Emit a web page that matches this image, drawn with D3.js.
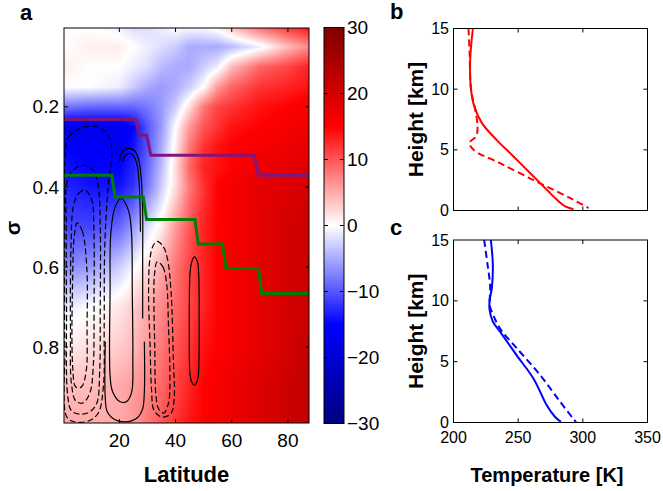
<!DOCTYPE html>
<html>
<head>
<meta charset="utf-8">
<script src="https://cdn.jsdelivr.net/npm/d3@7"></script>
<style>
  body { margin: 0; background: #fff; }
  svg { display: block; font-family: Arial, "Liberation Sans", Helvetica, sans-serif; }
</style>
</head>
<body>
<div id="container"></div>
<script>
// ---- panel a: temperature anomaly field (lat x sigma) ----
const latGrid = [0, 10, 20, 25, 30, 35, 40, 45, 50, 55, 60, 70, 80, 87.5];
const sigmaGrid = [0, 0.05, 0.1, 0.15, 0.2, 0.25, 0.3, 0.35, 0.4, 0.5, 0.6, 0.7, 0.8, 0.9, 1.0];
const dT = [
  [0, 0, -1, -2, -2, -1, 0, 0, 0, 1, 4, 9, 12, 14],
  [0, 1, 1, 0, -1, -2, -3, -5, -5, -5, -4, -1, 4, 7],
  [1, 0, 0, -1, -2, -4, -5, -5, -3, -1, 4, 9, 11, 13],
  [0, 0, -1, -3, -5, -6, -5, -3, 0, 6, 9, 12, 13, 14],
  [-8, -9, -9, -9, -8, -6, -3, 2, 8, 11, 12, 14, 15, 16],
  [-17, -17, -17, -15, -10, -6, 0, 6, 10, 12, 14, 15, 16, 17],
  [-15, -16, -16, -14, -10, -5, 1, 8, 12, 14, 15, 16, 17, 18],
  [-14, -15, -15, -13, -9, -4, 2, 9, 13, 14, 15, 17, 18, 19],
  [-13, -14, -14, -12, -8, -3, 2, 8, 12, 15, 16, 18, 19, 20],
  [-11, -11, -9, -6, -2, 1, 6, 10, 13, 15, 16, 18, 20, 21],
  [-7, -6, -3, -0.5, 2, 5, 8, 11, 13, 15, 16, 18, 20, 21],
  [-1.5, 0, 1.5, 3, 5, 7, 9, 11, 13, 15, 16, 18, 20, 21],
  [1, 2, 3, 4, 6, 8, 10, 12, 14, 15, 16, 18, 20, 22],
  [4, 4, 5, 6, 7, 9, 11, 13, 15, 16, 17, 19, 21, 22],
  [5, 5, 5, 6, 8, 10, 12, 14, 15, 16, 17, 19, 21, 22]
];

// circulation contours, [lat, sigma]
const posInnerU = [[20.6,0.429],[18.5,0.45],[17.0,0.512],[16.7,0.662],[16.7,0.871],[17.6,0.912],[20.3,0.937],[22.6,0.936],[24.4,0.912],[24.8,0.829],[24.6,0.662],[24.3,0.512],[23.2,0.458]];
const posArchOuter = [[20.0,0.337],[20.6,0.317],[22.0,0.306],[23.8,0.304],[25.6,0.311],[26.9,0.333],[27.8,0.379],[28.3,0.462],[28.3,0.579],[28.3,0.729]];
const posArchInner = [[21.2,0.336],[22.1,0.322],[23.6,0.316],[25.0,0.322],[26.2,0.341],[27.0,0.387],[27.4,0.462],[27.5,0.512]];
const posBottom = [[15.0,0.787],[15.0,0.929],[15.7,0.962],[18.5,0.982],[22.6,0.987],[26.4,0.977],[28.3,0.954],[28.9,0.912],[28.9,0.787]];
const posOval = [[46.7,0.575],[47.8,0.587],[48.2,0.612],[48.4,0.746],[48.1,0.871],[47.5,0.889],[46.7,0.896],[45.8,0.888],[45.2,0.871],[44.9,0.746],[45.2,0.612],[45.8,0.587]];
const negMidOuter = [[33.5,0.536],[35.7,0.55],[37.1,0.579],[38.4,0.662],[39.2,0.829],[39.5,0.929],[38.3,0.967],[35.1,0.975],[32.3,0.958],[31.5,0.912],[30.9,0.787],[30.4,0.662],[30.9,0.579],[32.1,0.546]];
const negMidInner = [[33.5,0.587],[35.5,0.6],[36.8,0.64],[37.5,0.75],[38.0,0.88],[37.5,0.94],[35.8,0.965],[34.0,0.955],[33.0,0.92],[32.6,0.8],[32.3,0.68],[32.5,0.62]];
const negLeft1 = [[0.8,0.31],[1.9,0.275],[6.0,0.254],[10.7,0.248],[14.3,0.258],[16.7,0.283],[17.3,0.32],[16.0,0.4],[14.8,0.55],[14.6,0.75],[14.3,0.9],[12.5,0.965],[9,0.985],[4,0.987],[1.3,0.975],[0.6,0.8],[0.5,0.55]];
const negLeft2 = [[1.3,0.39],[3.6,0.358],[7.2,0.346],[10.7,0.358],[12.5,0.4],[13.2,0.5],[13.2,0.7],[13.0,0.86],[12.0,0.94],[9.5,0.962],[6,0.968],[3,0.96],[1.6,0.92],[1.2,0.7],[1.1,0.5]];
const negLeft3 = [[3.6,0.45],[5.4,0.417],[7.8,0.408],[10.2,0.433],[10.9,0.5],[11.0,0.7],[10.7,0.85],[9.5,0.915],[7,0.94],[4.5,0.935],[3,0.895],[2.6,0.75],[2.8,0.55]];
const negLeft4 = [[5.0,0.49],[6.8,0.51],[8.4,0.6],[8.5,0.75],[8.2,0.86],[6.5,0.9],[4.5,0.9],[3.4,0.85],[3.4,0.62],[4.0,0.52]];

// tropopause-like step lines
const purpleLat = [0.3, 25.9, 27.1, 29.7, 31.2, 68.0, 69.5, 87.5];
const purpleSig = [0.2315, 0.2315, 0.271, 0.271, 0.321, 0.321, 0.371, 0.371];
const greenLat = [0.3, 17.3, 18.5, 28.5, 29.7, 46.9, 48.1, 56.7, 58.0, 69.5, 70.7, 87.5];
const greenSig = [0.371, 0.371, 0.425, 0.425, 0.4815, 0.4815, 0.543, 0.543, 0.604, 0.604, 0.6665, 0.6665];

const latTicks = [20, 40, 60, 80];
const sigmaTicks = [0.2, 0.4, 0.6, 0.8];
const cbarTicks = [30, 20, 10, 0, -10, -20, -30];

// ---- panels b, c: temperature profiles ----
const redSolidT = [215, 212.9, 213.5, 216, 222, 233.5, 246.4, 261.9, 272.2, 280, 286.4, 292.8];
const redSolidH = [15, 12.4, 10, 8.6, 7.2, 5.8, 4.45, 2.8, 1.7, 0.88, 0.33, 0.1];
const redDashT = [211.6, 212.4, 213.5, 216.8, 218.6, 217.5, 212.4, 215.5, 236, 261.9, 280, 292.8, 304.4];
const redDashH = [15, 13.2, 10, 8.3, 6.9, 6.1, 5.6, 5.0, 3.9, 2.5, 1.56, 0.88, 0.2];
const blueSolidT = [228.9, 230.4, 229.7, 227.9, 227.9, 230.4, 236.1, 249, 261.9, 272.2, 278.6, 283];
const blueSolidH = [15, 13.0, 11.1, 10.0, 9.25, 8.3, 7.45, 5.5, 3.6, 1.4, 0.45, 0.05];
const blueDashT = [223.7, 226.3, 228.4, 228, 229.7, 236.1, 249, 267, 282.5, 294.9];
const blueDashH = [15, 13, 11.1, 9.6, 9.1, 7.7, 6.1, 3.9, 1.7, 0];
const tempTicks = [200, 250, 300, 350];
const heightTicks = [0, 5, 10, 15];

const W = 663, H = 491;
const svg = d3.select("#container").append("svg")
  .attr("width", W).attr("height", H)
  .attr("viewBox", [0, 0, W, H]);

const color = d3.scaleLinear()
  .domain([-30, -15, 0, 15, 30])
  .range(["#00007f", "#0000ff", "#ffffff", "#ff0000", "#7f0000"])
  .clamp(true);

// ---------- panel a ----------
const ax = {l: 64, r: 309, t: 28, b: 423};
const xA = d3.scaleLinear().domain([0.3, 87.5]).range([ax.l, ax.r]);
const yA = d3.scaleLinear().domain([0.003, 0.99]).range([ax.t, ax.b]);

function fieldAt(lat, sig) {
  let i = Math.min(Math.max(d3.bisectRight(latGrid, lat) - 1, 0), latGrid.length - 2);
  let j = Math.min(Math.max(d3.bisectRight(sigmaGrid, sig) - 1, 0), sigmaGrid.length - 2);
  const fx = Math.max(0, Math.min(1, (lat - latGrid[i]) / (latGrid[i + 1] - latGrid[i])));
  const fy = Math.max(0, Math.min(1, (sig - sigmaGrid[j]) / (sigmaGrid[j + 1] - sigmaGrid[j])));
  const a = dT[j][i] * (1 - fx) + dT[j][i + 1] * fx;
  const b = dT[j + 1][i] * (1 - fx) + dT[j + 1][i + 1] * fx;
  return a * (1 - fy) + b * fy;
}

const cw = ax.r - ax.l, ch = ax.b - ax.t;
const canvas = document.createElement("canvas");
canvas.width = cw; canvas.height = ch;
const ctx = canvas.getContext("2d");
const img = ctx.createImageData(cw, ch);
for (let py = 0; py < ch; py++) {
  const sig = yA.invert(ax.t + py + 0.5);
  for (let px = 0; px < cw; px++) {
    const lat = xA.invert(ax.l + px + 0.5);
    const c = d3.rgb(color(fieldAt(lat, sig)));
    const k = (py * cw + px) * 4;
    img.data[k] = c.r; img.data[k + 1] = c.g; img.data[k + 2] = c.b; img.data[k + 3] = 255;
  }
}
ctx.putImageData(img, 0, 0);

svg.append("defs").append("clipPath").attr("id", "clipA")
  .append("rect").attr("x", ax.l).attr("y", ax.t).attr("width", cw).attr("height", ch);

svg.append("image")
  .attr("x", ax.l).attr("y", ax.t).attr("width", cw).attr("height", ch)
  .attr("preserveAspectRatio", "none")
  .attr("href", canvas.toDataURL());

const gA = svg.append("g").attr("clip-path", "url(#clipA)");

const closedLine = d3.line().x(d => xA(d[0])).y(d => yA(d[1])).curve(d3.curveCatmullRomClosed);
const openLine = d3.line().x(d => xA(d[0])).y(d => yA(d[1])).curve(d3.curveCatmullRom);

const contours = [
  {pts: posInnerU, closed: true, dash: false},
  {pts: posArchOuter, closed: false, dash: false},
  {pts: posArchInner, closed: false, dash: false},
  {pts: posBottom, closed: false, dash: false},
  {pts: posOval, closed: true, dash: false},
  {pts: negMidOuter, closed: true, dash: true},
  {pts: negMidInner, closed: true, dash: true},
  {pts: negLeft1, closed: true, dash: true},
  {pts: negLeft2, closed: true, dash: true},
  {pts: negLeft3, closed: true, dash: true},
  {pts: negLeft4, closed: true, dash: true}
];

gA.selectAll("path.ctr")
  .data(contours)
  .join("path")
  .attr("class", "ctr")
  .attr("fill", "none")
  .attr("stroke", "#000")
  .attr("stroke-width", 1.2)
  .attr("stroke-dasharray", d => d.dash ? "6,3" : null)
  .attr("d", d => d.closed ? closedLine(d.pts) : openLine(d.pts));

const stepLine = d3.line().x(d => xA(d[0])).y(d => yA(d[1]));
gA.append("path")
  .attr("fill", "none").attr("stroke", "#7f167f").attr("stroke-width", 3)
  .attr("d", stepLine(d3.zip(purpleLat, purpleSig)));
gA.append("path")
  .attr("fill", "none").attr("stroke", "#008000").attr("stroke-width", 3)
  .attr("d", stepLine(d3.zip(greenLat, greenSig)));

function box(g, l, t, r, b) {
  g.append("rect")
    .attr("x", l).attr("y", t).attr("width", r - l).attr("height", b - t)
    .attr("fill", "none").attr("stroke", "#000").attr("stroke-width", 1);
}

const tickLen = 4;
// panel a ticks
svg.append("g").selectAll("line").data(latTicks).join("line")
  .attr("x1", d => xA(d)).attr("x2", d => xA(d)).attr("y1", ax.b).attr("y2", ax.b - tickLen).attr("stroke", "#000");
svg.append("g").selectAll("line").data(latTicks).join("line")
  .attr("x1", d => xA(d)).attr("x2", d => xA(d)).attr("y1", ax.t).attr("y2", ax.t + tickLen).attr("stroke", "#000");
svg.append("g").selectAll("line").data(sigmaTicks).join("line")
  .attr("x1", ax.l).attr("x2", ax.l + tickLen).attr("y1", d => yA(d)).attr("y2", d => yA(d)).attr("stroke", "#000");
svg.append("g").selectAll("line").data(sigmaTicks).join("line")
  .attr("x1", ax.r).attr("x2", ax.r - tickLen).attr("y1", d => yA(d)).attr("y2", d => yA(d)).attr("stroke", "#000");
box(svg, ax.l, ax.t, ax.r, ax.b);

svg.append("g").selectAll("text").data(latTicks).join("text")
  .attr("x", d => xA(d)).attr("y", 447)
  .attr("text-anchor", "middle").attr("font-size", 19)
  .text(d => d);
svg.append("g").selectAll("text").data(sigmaTicks).join("text")
  .attr("x", 59).attr("y", d => yA(d))
  .attr("dy", "0.35em").attr("text-anchor", "end").attr("font-size", 19)
  .text(d => d.toFixed(1));

svg.append("text").attr("x", (ax.l + ax.r) / 2).attr("y", 482)
  .attr("text-anchor", "middle").attr("font-size", 22).attr("font-weight", "bold")
  .text("Latitude");
svg.append("text").attr("transform", "translate(20,228) rotate(-90)")
  .attr("text-anchor", "middle").attr("font-size", 21).attr("font-weight", "bold")
  .text("σ");
svg.append("text").attr("x", 20).attr("y", 20)
  .attr("font-size", 22).attr("font-weight", "bold").text("a");

// ---------- colorbar ----------
const cb = {l: 324, r: 344, t: 27.5, b: 423.5};
const yC = d3.scaleLinear().domain([30, -30]).range([cb.t, cb.b]);
const grad = svg.select("defs").append("linearGradient")
  .attr("id", "cbGrad").attr("x1", 0).attr("x2", 0).attr("y1", 0).attr("y2", 1);
grad.selectAll("stop").data(d3.range(30, -30.01, -2.5)).join("stop")
  .attr("offset", d => (30 - d) / 60)
  .attr("stop-color", d => color(d));
svg.append("rect").attr("x", cb.l).attr("y", cb.t).attr("width", cb.r - cb.l).attr("height", cb.b - cb.t)
  .attr("fill", "url(#cbGrad)");
const innerCb = cbarTicks.filter(d => Math.abs(d) < 30);
svg.append("g").selectAll("line").data(innerCb).join("line")
  .attr("x1", cb.l).attr("x2", cb.l + tickLen).attr("y1", d => yC(d)).attr("y2", d => yC(d)).attr("stroke", "#000");
svg.append("g").selectAll("line").data(innerCb).join("line")
  .attr("x1", cb.r).attr("x2", cb.r - tickLen).attr("y1", d => yC(d)).attr("y2", d => yC(d)).attr("stroke", "#000");
box(svg, cb.l, cb.t, cb.r, cb.b);
svg.append("g").selectAll("text").data(cbarTicks).join("text")
  .attr("x", 347).attr("y", d => yC(d))
  .attr("dy", "0.35em").attr("font-size", 19)
  .text(d => d < 0 ? "\u2212" + Math.abs(d) : d);

// ---------- panels b, c ----------
const xP = d3.scaleLinear().domain([200, 350]).range([453.5, 647.5]);

function profilePanel(top, bottom, series, showX, label, labelY) {
  const yP = d3.scaleLinear().domain([0, 15]).range([bottom, top]);
  const line = d3.line().x(d => xP(d[0])).y(d => yP(d[1])).curve(d3.curveCatmullRom);
  const g = svg.append("g");
  series.forEach(s => {
    g.append("path")
      .attr("fill", "none").attr("stroke", s.color).attr("stroke-width", 2)
      .attr("stroke-dasharray", s.dash ? "7,4" : null)
      .attr("d", line(d3.zip(s.t, s.h)));
  });
  const inX = tempTicks.slice(1, -1), inY = heightTicks.slice(1, -1);
  g.append("g").selectAll("line").data(inX).join("line")
    .attr("x1", d => xP(d)).attr("x2", d => xP(d)).attr("y1", bottom).attr("y2", bottom - tickLen).attr("stroke", "#000");
  g.append("g").selectAll("line").data(inX).join("line")
    .attr("x1", d => xP(d)).attr("x2", d => xP(d)).attr("y1", top).attr("y2", top + tickLen).attr("stroke", "#000");
  g.append("g").selectAll("line").data(inY).join("line")
    .attr("x1", xP(200)).attr("x2", xP(200) + tickLen).attr("y1", d => yP(d)).attr("y2", d => yP(d)).attr("stroke", "#000");
  g.append("g").selectAll("line").data(inY).join("line")
    .attr("x1", xP(350)).attr("x2", xP(350) - tickLen).attr("y1", d => yP(d)).attr("y2", d => yP(d)).attr("stroke", "#000");
  box(g, xP(200), top, xP(350), bottom);
  g.append("g").selectAll("text").data(heightTicks).join("text")
    .attr("x", 449).attr("y", d => yP(d)).attr("dy", "0.35em")
    .attr("text-anchor", "end").attr("font-size", 16)
    .text(d => d);
  if (showX) {
    g.append("g").selectAll("text").data(tempTicks).join("text")
      .attr("x", d => xP(d)).attr("y", bottom + 20)
      .attr("text-anchor", "middle").attr("font-size", 16)
      .text(d => d);
  }
  g.append("text").attr("transform", `translate(423,${(top + bottom) / 2}) rotate(-90)`)
    .attr("text-anchor", "middle").attr("font-size", 21).attr("font-weight", "bold")
    .text("Height [km]");
  g.append("text").attr("x", 390).attr("y", labelY)
    .attr("font-size", 22).attr("font-weight", "bold").text(label);
}

profilePanel(28.5, 210.5, [
  {t: redSolidT, h: redSolidH, color: "#ff0000", dash: false},
  {t: redDashT, h: redDashH, color: "#ff0000", dash: true}
], false, "b", 19);

profilePanel(240, 422.5, [
  {t: blueSolidT, h: blueSolidH, color: "#0000ff", dash: false},
  {t: blueDashT, h: blueDashH, color: "#0000ff", dash: true}
], true, "c", 235);

svg.append("text").attr("x", 547).attr("y", 482)
  .attr("text-anchor", "middle").attr("font-size", 20).attr("font-weight", "bold")
  .text("Temperature [K]");
</script>
</body>
</html>
